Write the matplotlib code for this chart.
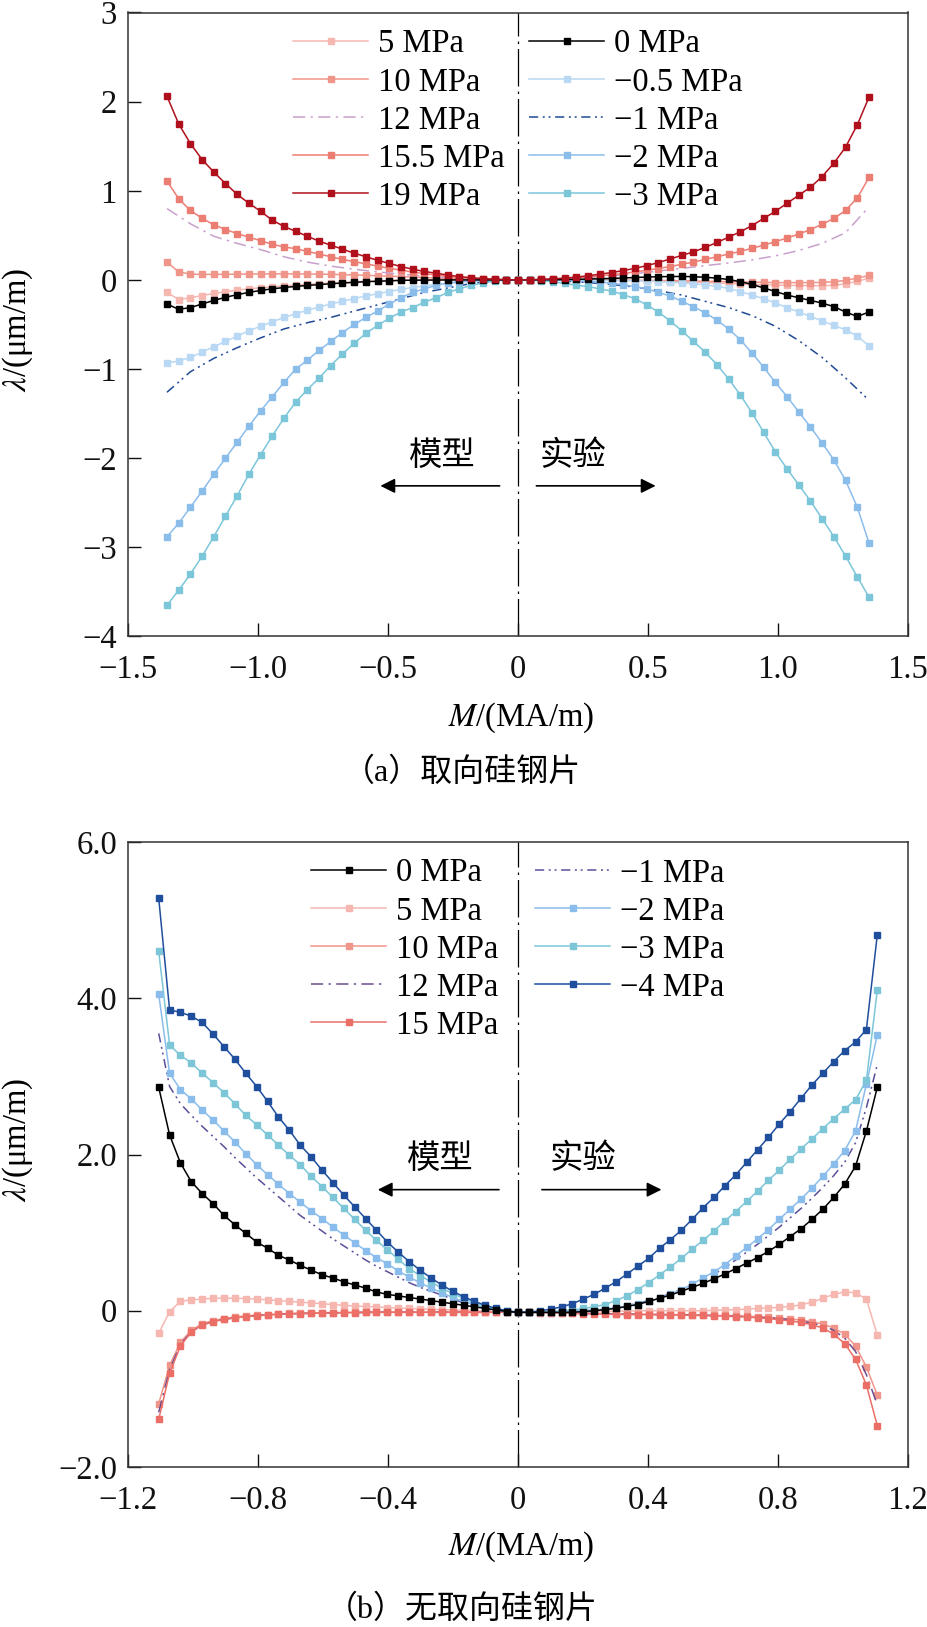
import matplotlib
matplotlib.use("Agg")
import matplotlib.pyplot as plt

plt.rcParams['font.family'] = ['Liberation Serif', 'Noto Sans CJK SC']
plt.rcParams['mathtext.fontset'] = 'stix'
plt.rcParams['axes.unicode_minus'] = True

# ---------------- Panel (a): grain-oriented steel ----------------
A_M = [0.0, 0.045, 0.09, 0.135, 0.18, 0.225, 0.27, 0.315, 0.36, 0.405,
       0.45, 0.495, 0.54, 0.585, 0.63, 0.675, 0.72, 0.765, 0.81, 0.855,
       0.9, 0.945, 0.99, 1.035, 1.08, 1.125, 1.17, 1.215, 1.26, 1.305, 1.35]
A_M_LINE = [0.0, 0.09, 0.18, 0.27, 0.36, 0.45, 0.54, 0.63, 0.72, 0.81,
            0.9, 0.99, 1.08, 1.17, 1.26, 1.35]

a19_model = [0, .003, .008, .015, .025, .037, .055, .075, .095, .12,
             .15, .185, .22, .26, .30, .345, .39, .435, .49, .545,
             .60, .67, .77, .86, .96, 1.08, 1.21, 1.35, 1.53, 1.75, 2.06]
a19_exp = [0, .002, .006, .012, .02, .032, .047, .064, .083, .105,
           .13, .16, .195, .235, .275, .315, .365, .42, .48, .54,
           .61, .69, .77, .86, .95, 1.04, 1.16, 1.31, 1.49, 1.74, 2.05]
a155_model = [0, .002, .005, .01, .018, .028, .04, .055, .07, .088,
              .11, .13, .155, .18, .205, .23, .26, .29, .32, .35,
              .37, .40, .44, .48, .52, .565, .62, .69, .78, .91, 1.11]
a155_exp = [0, .002, .005, .01, .016, .024, .034, .045, .058, .072,
            .09, .108, .128, .15, .175, .20, .23, .26, .29, .32,
            .355, .39, .43, .47, .515, .565, .625, .69, .78, .92, 1.15]
a12_model = [0, .004, .012, .025, .042, .065, .09, .12, .155, .2,
             .26, .34, .41, .49, .63, .80]
a12_exp = [0, .004, .012, .025, .045, .07, .10, .13, .16, .19,
           .225, .27, .33, .41, .53, .82]
a10_model = [0, .001, .003, .006, .01, .014, .018, .022, .027, .032,
             .037, .042, .047, .052, .056, .06, .063, .065, .067, .068,
             .068, .068, .067, .066, .065, .063, .062, .062, .065, .09, .20]
a10_exp = [0, 0, 0, 0, 0, -.001, -.002, -.002, -.003, -.003,
           -.004, -.005, -.006, -.008, -.01, -.012, -.015, -.017, -.02, -.022,
           -.025, -.027, -.03, -.03, -.03, -.03, -.028, -.02, -.005, .02, .05]
a5_model = [0, 0, 0, 0, 0, 0, 0, 0, 0, -.002,
            -.005, -.008, -.012, -.017, -.022, -.028, -.035, -.042, -.05, -.058,
            -.067, -.077, -.088, -.1, -.115, -.132, -.152, -.175, -.2, -.22, -.14]
a5_exp = [0, 0, 0, 0, -.001, -.002, -.003, -.004, -.005, -.006,
          -.008, -.01, -.015, -.018, -.022, -.026, -.03, -.035, -.04, -.045,
          -.05, -.054, -.058, -.06, -.063, -.065, -.065, -.06, -.045, -.015, .02]
a0_model = [0, 0, 0, 0, 0, 0, 0, -.001, -.002, -.003,
            -.005, -.01, -.015, -.02, -.027, -.035, -.043, -.052, -.062, -.073,
            -.085, -.1, -.118, -.14, -.165, -.195, -.23, -.27, -.31, -.33, -.27]
a0_exp = [0, 0, .001, .002, .004, .007, .01, .013, .017, .022,
          .027, .032, .036, .038, .039, .036, .03, .02, .005, -.02,
          -.05, -.09, -.13, -.17, -.2, -.23, -.26, -.3, -.36, -.41, -.36]
am05_model = [0, -.001, -.004, -.009, -.016, -.025, -.036, -.05, -.066, -.085,
              -.105, -.13, -.155, -.18, -.21, -.24, -.27, -.305, -.34, -.38,
              -.42, -.47, -.52, -.57, -.63, -.69, -.75, -.81, -.87, -.91, -.93]
am05_exp = [0, 0, -.001, -.001, -.002, -.003, -.004, -.005, -.006, -.007,
            -.008, -.012, -.018, -.025, -.033, -.043, -.056, -.072, -.095, -.13,
            -.17, -.21, -.26, -.31, -.36, -.41, -.46, -.51, -.56, -.63, -.74]
am1_model = [0, -.01, -.04, -.09, -.14, -.21, -.28, -.35, -.42, -.48,
             -.55, -.65, -.76, -.88, -1.03, -1.26]
am1_exp = [0, -.003, -.012, -.03, -.05, -.08, -.12, -.17, -.24, -.31,
           -.40, -.52, -.68, -.87, -1.1, -1.35]
am2_model = [0, 0, -.002, -.005, -.01, -.02, -.035, -.06, -.1, -.14,
             -.2, -.27, -.35, -.42, -.5, -.59, -.69, -.79, -.9, -1.0,
             -1.15, -1.31, -1.47, -1.64, -1.82, -2.0, -2.18, -2.37, -2.55, -2.73, -2.88]
am2_exp = [0, 0, -.001, -.003, -.006, -.01, -.016, -.025, -.037, -.055,
           -.075, -.1, -.14, -.18, -.24, -.3, -.37, -.45, -.55, -.67,
           -.82, -.98, -1.15, -1.31, -1.48, -1.65, -1.83, -2.02, -2.25, -2.55, -2.95]
am3_model = [0, -.003, -.01, -.035, -.06, -.1, -.14, -.2, -.25, -.31,
             -.36, -.43, -.51, -.6, -.71, -.83, -.96, -1.1, -1.23, -1.37,
             -1.55, -1.75, -1.96, -2.18, -2.42, -2.65, -2.88, -3.1, -3.3, -3.48, -3.65]
am3_exp = [0, -.002, -.008, -.02, -.04, -.06, -.075, -.1, -.125, -.165,
           -.21, -.28, -.36, -.46, -.57, -.69, -.81, -.95, -1.11, -1.29,
           -1.49, -1.71, -1.93, -2.12, -2.3, -2.48, -2.68, -2.88, -3.1, -3.33, -3.56]

A_XTICKS = [-1.5, -1.0, -0.5, 0, 0.5, 1.0, 1.5]
A_XLABELS = ['\u22121.5', '\u22121.0', '\u22120.5', '0', '0.5', '1.0', '1.5']
A_YTICKS = [-4, -3, -2, -1, 0, 1, 2, 3]
A_YLABELS = ['\u22124', '\u22123', '\u22122', '\u22121', '0', '1', '2', '3']

# ---------------- Panel (b): non-oriented steel ----------------
B_M = [0.0, 0.0335, 0.067, 0.1005, 0.134, 0.1675, 0.201, 0.2345, 0.268, 0.3015,
       0.335, 0.3685, 0.402, 0.4355, 0.469, 0.5025, 0.536, 0.5695, 0.603, 0.6365,
       0.67, 0.7035, 0.737, 0.7705, 0.804, 0.8375, 0.871, 0.9045, 0.938, 0.9715,
       1.005, 1.0385, 1.072, 1.1055]

b0_model = [-.02, -.01, .01, .03, .05, .07, .09, .11, .13, .15,
            .17, .19, .21, .24, .29, .33, .37, .42, .46, .52,
            .58, .65, .71, .80, .88, .99, 1.10, 1.22, 1.37, 1.50,
            1.65, 1.89, 2.25, 2.86]
b0_exp = [-.02, -.02, -.02, -.02, -.02, -.02, -.01, 0, .015, .03,
          .055, .08, .12, .16, .20, .25, .30, .35, .41, .47,
          .54, .61, .68, .76, .85, .95, 1.05, 1.17, 1.30, 1.45,
          1.62, 1.85, 2.30, 2.86]
b5_model = [-.02, -.015, -.01, -.005, 0, .005, .01, .015, .02, .025,
            .03, .035, .04, .05, .055, .06, .07, .08, .09, .10,
            .11, .12, .13, .14, .15, .155, .16, .16, .16, .15,
            .14, .12, -.01, -.29]
b5_exp = [-.02, -.02, -.02, -.02, -.015, -.015, -.01, -.01, -.01, -.005,
          -.005, 0, 0, 0, 0, 0, 0, 0, .005, .01,
          .015, .02, .03, .035, .045, .055, .075, .11, .16, .21,
          .24, .23, .15, -.31]
b10_model = [-.015, -.015, -.015, -.015, -.015, -.015, -.015, -.015, -.015, -.015,
             -.015, -.015, -.015, -.015, -.017, -.019, -.021, -.023, -.025, -.028,
             -.031, -.035, -.041, -.048, -.056, -.065, -.08, -.10, -.125, -.165,
             -.25, -.40, -.70, -1.19]
b10_exp = [-.02, -.02, -.02, -.025, -.025, -.03, -.03, -.035, -.035, -.04,
           -.04, -.04, -.045, -.045, -.05, -.05, -.05, -.055, -.06, -.06,
           -.065, -.07, -.075, -.085, -.095, -.105, -.12, -.14, -.17, -.22,
           -.30, -.45, -.72, -1.08]
b12_model = [-.02, -.02, -.02, -.02, -.02, -.02, -.02, -.02, -.02, -.02,
             -.02, -.02, -.02, -.02, -.022, -.024, -.026, -.028, -.03, -.033,
             -.036, -.04, -.046, -.053, -.062, -.075, -.09, -.11, -.14, -.18,
             -.27, -.43, -.75, -1.30]
b12_exp = [-.02, -.02, -.02, -.025, -.03, -.03, -.035, -.035, -.04, -.04,
           -.045, -.045, -.05, -.05, -.05, -.055, -.055, -.06, -.06, -.065,
           -.07, -.075, -.085, -.09, -.10, -.115, -.13, -.16, -.19, -.25,
           -.35, -.52, -.82, -1.20]
b15_model = [-.02, -.02, -.02, -.02, -.02, -.02, -.02, -.02, -.02, -.02,
             -.02, -.02, -.02, -.02, -.022, -.024, -.026, -.028, -.03, -.033,
             -.036, -.04, -.047, -.055, -.064, -.077, -.09, -.11, -.14, -.18,
             -.27, -.45, -.80, -1.39]
b15_exp = [-.02, -.02, -.025, -.03, -.03, -.035, -.04, -.04, -.045, -.045,
           -.05, -.05, -.05, -.05, -.055, -.055, -.06, -.06, -.065, -.07,
           -.075, -.08, -.09, -.10, -.115, -.13, -.15, -.18, -.22, -.30,
           -.42, -.62, -.95, -1.47]
bm1_model = [-.02, -.01, 0, .03, .06, .1, .15, .2, .25, .3,
             .36, .43, .5, .57, .65, .74, .83, .92, 1.02, 1.12,
             1.22, 1.34, 1.46, 1.58, 1.70, 1.83, 1.96, 2.10, 2.23, 2.36,
             2.50, 2.65, 2.87, 3.55]
bm1_exp = [-.02, -.02, -.02, -.02, -.02, -.01, 0, .005, .02, .04,
           .065, .095, .13, .17, .22, .27, .33, .39, .47, .55,
           .65, .75, .85, .96, 1.07, 1.19, 1.31, 1.44, 1.58, 1.73,
           1.90, 2.15, 2.60, 3.15]
bm2_model = [-.02, -.01, .01, .04, .08, .12, .17, .23, .29, .36,
             .43, .51, .60, .68, .77, .87, .97, 1.07, 1.18, 1.28,
             1.39, 1.50, 1.62, 1.74, 1.87, 2.01, 2.16, 2.30, 2.44, 2.57,
             2.71, 2.83, 3.04, 4.05]
bm2_exp = [-.02, -.02, -.02, -.02, -.01, 0, 0, .01, .02, .04,
           .06, .09, .12, .16, .21, .27, .34, .42, .50, .59,
           .70, .81, .92, 1.04, 1.17, 1.30, 1.43, 1.57, 1.72, 1.88,
           2.05, 2.30, 2.90, 3.53]
bm3_model = [-.02, 0, .02, .06, .10, .16, .22, .29, .37, .45,
             .54, .66, .78, .90, 1.03, 1.17, 1.31, 1.45, 1.59, 1.72,
             1.87, 1.99, 2.12, 2.25, 2.38, 2.50, 2.65, 2.79, 2.92, 3.04,
             3.17, 3.27, 3.40, 4.60]
bm3_exp = [-.02, -.02, -.02, -.01, 0, .01, .03, .05, .08, .13,
           .19, .27, .36, .46, .56, .67, .79, .90, 1.02, 1.15,
           1.27, 1.40, 1.53, 1.67, 1.80, 1.94, 2.07, 2.20, 2.33, 2.46,
           2.58, 2.70, 2.95, 4.10]
bm4_model = [-.02, 0, .03, .07, .12, .18, .25, .33, .42, .52,
             .63, .75, .88, 1.03, 1.18, 1.33, 1.48, 1.64, 1.80, 1.97,
             2.12, 2.31, 2.48, 2.68, 2.87, 3.04, 3.22, 3.38, 3.54, 3.69,
             3.77, 3.82, 3.85, 5.28]
bm4_exp = [-.02, -.02, 0, .02, .05, .09, .15, .21, .29, .37,
           .47, .57, .67, .80, .91, 1.03, 1.17, 1.32, 1.45, 1.60,
           1.74, 1.90, 2.06, 2.22, 2.39, 2.55, 2.72, 2.89, 3.04, 3.19,
           3.33, 3.44, 3.60, 4.81]

B_XTICKS = [-1.2, -0.8, -0.4, 0, 0.4, 0.8, 1.2]
B_XLABELS = ['\u22121.2', '\u22120.8', '\u22120.4', '0', '0.4', '0.8', '1.2']
B_YTICKS = [-2, 0, 2, 4, 6]
B_YLABELS = ['\u22122.0', '0', '2.0', '4.0', '6.0']

# ---------------- styles ----------------
FS = 23.5
W, H = 928, 1627
DASHDOT = (0, (8, 3.5, 1.5, 3.5))
DASHDOTDOT = (0, (6, 3, 1.3, 2.5, 1.3, 3))


def both_sides(grid, model, exp):
    n = min(len(grid), len(model), len(exp))
    g, m, e = grid[:n], model[:n], exp[:n]
    xs = [-v for v in reversed(g)] + list(g[1:])
    ys = list(reversed(m)) + list(e[1:])
    return xs, ys


def draw(ax, grid, model, exp, label, color, ls='-', marker='s', ms=4.0, lw=1.1, z=2):
    xs, ys = both_sides(grid, model, exp)
    if marker:
        line, = ax.plot(xs, ys, ls=ls, color=color, lw=lw, marker=marker,
                        ms=ms, mec=color, mfc=color, label=label, zorder=z)
    else:
        line, = ax.plot(xs, ys, ls=ls, color=color, lw=lw, label=label, zorder=z)
    return line


def style_axes(ax, xlim, ylim, xt, xl, yt, yl):
    ax.set_xlim(*xlim)
    ax.set_ylim(*ylim)
    ax.set_xticks(xt)
    ax.set_xticklabels(xl)
    ax.set_yticks(yt)
    ax.set_yticklabels(yl)
    ax.tick_params(direction='in', length=9.5, width=1.0, top=False, right=False,
                   labelsize=FS, colors='#111111')
    ax.tick_params(axis='x', pad=13)
    ax.tick_params(axis='y', pad=8)
    for s in ax.spines.values():
        s.set_linewidth(1.1)
        s.set_color('#333333')
    ax.axvline(0, color='black', lw=0.9, ls=(0, (30, 4, 2, 4)), zorder=1)


def fx(px):
    return px / W


def fy(py):
    return 1 - py / H


fig = plt.figure(figsize=(W / 100, H / 100), dpi=100)

# ---------- panel a ----------
axa = fig.add_axes([fx(128), fy(636.5), 780 / W, 624 / H])
la = {}
la['5'] = draw(axa, A_M, a5_model, a5_exp, '5 MPa', '#F5B7B0')
la['10'] = draw(axa, A_M, a10_model, a10_exp, '10 MPa', '#F0958A')
la['12'] = draw(axa, A_M_LINE, a12_model, a12_exp, '12 MPa', '#C9A0CB', ls=DASHDOT, marker=None)
la['15.5'] = draw(axa, A_M, a155_model, a155_exp, '15.5 MPa', '#EC7D73')
la['-0.5'] = draw(axa, A_M, am05_model, am05_exp, '\u22120.5 MPa', '#B9D8F3')
la['-1'] = draw(axa, A_M_LINE, am1_model, am1_exp, '\u22121 MPa', '#1F4A94', ls=DASHDOTDOT, marker=None)
la['-2'] = draw(axa, A_M, am2_model, am2_exp, '\u22122 MPa', '#8BBDEB')
la['-3'] = draw(axa, A_M, am3_model, am3_exp, '\u22123 MPa', '#7CC6DA')
la['0'] = draw(axa, A_M, a0_model, a0_exp, '0 MPa', '#000000', z=3)
la['19'] = draw(axa, A_M, a19_model, a19_exp, '19 MPa', '#B0101C', ms=4.3, z=3)
style_axes(axa, (-1.5, 1.5), (-4, 3), A_XTICKS, A_XLABELS, A_YTICKS, A_YLABELS)

leg_kw = dict(loc='upper left', bbox_transform=fig.transFigure, frameon=False,
              borderpad=0, borderaxespad=0, handlelength=2.3, handletextpad=0.3,
              labelspacing=0.23, fontsize=FS)
l1 = axa.legend(handles=[la[k] for k in ['5', '10', '12', '15.5', '19']],
                bbox_to_anchor=(fx(293), fy(29)), **leg_kw)
axa.add_artist(l1)
axa.legend(handles=[la[k] for k in ['0', '-0.5', '-1', '-2', '-3']],
           bbox_to_anchor=(fx(529), fy(29)), **leg_kw)

axa.text(-0.29, -1.97, '模型', fontsize=24, ha='center', va='center',
         family=['Noto Sans CJK SC'])
axa.text(0.21, -1.97, '实验', fontsize=24, ha='center', va='center',
         family=['Noto Sans CJK SC'])
arrow_kw = dict(arrowstyle='-|>', color='black', lw=1.2, mutation_scale=22)
axa.annotate('', xy=(-0.54, -2.31), xytext=(-0.06, -2.31), arrowprops=arrow_kw)
axa.annotate('', xy=(0.54, -2.31), xytext=(0.06, -2.31), arrowprops=arrow_kw)

fig.text(fx(18), fy(330), r'$\lambda$/(μm/m)', rotation=90, ha='center', va='center', fontsize=FS)
fig.text(fx(521), fy(718), r'$M$/(MA/m)', ha='center', va='center', fontsize=FS)
fig.text(fx(462), fy(773), '（a）取向硅钢片', ha='center', va='center', fontsize=23,
         family=['Liberation Serif', 'Noto Sans CJK SC'])

# ---------- panel b ----------
axb = fig.add_axes([fx(128), fy(1467), 780 / W, 625 / H])
lb = {}
lb['5'] = draw(axb, B_M, b5_model, b5_exp, '5 MPa', '#F5B7B0')
lb['10'] = draw(axb, B_M, b10_model, b10_exp, '10 MPa', '#F0958A')
lb['12'] = draw(axb, B_M, b12_model, b12_exp, '12 MPa', '#6B4D8F', ls=DASHDOT, marker=None)
lb['15'] = draw(axb, B_M, b15_model, b15_exp, '15 MPa', '#EC6F67')
lb['-1'] = draw(axb, B_M, bm1_model, bm1_exp, '\u22121 MPa', '#5B4E9A', ls=DASHDOTDOT, marker=None)
lb['-2'] = draw(axb, B_M, bm2_model, bm2_exp, '\u22122 MPa', '#8ABDEC')
lb['-3'] = draw(axb, B_M, bm3_model, bm3_exp, '\u22123 MPa', '#7CC6D8')
lb['-4'] = draw(axb, B_M, bm4_model, bm4_exp, '\u22124 MPa', '#1F4E9C', z=3)
lb['0'] = draw(axb, B_M, b0_model, b0_exp, '0 MPa', '#000000', z=3)
style_axes(axb, (-1.2, 1.2), (-2, 6), B_XTICKS, B_XLABELS, B_YTICKS, B_YLABELS)

l3 = axb.legend(handles=[lb[k] for k in ['0', '5', '10', '12', '15']],
                bbox_to_anchor=(fx(311), fy(858)), **leg_kw)
axb.add_artist(l3)
axb.legend(handles=[lb[k] for k in ['-1', '-2', '-3', '-4']],
           bbox_to_anchor=(fx(535), fy(858)), **leg_kw)

axb.text(-0.24, 1.95, '模型', fontsize=24, ha='center', va='center',
         family=['Noto Sans CJK SC'])
axb.text(0.2, 1.95, '实验', fontsize=24, ha='center', va='center',
         family=['Noto Sans CJK SC'])
axb.annotate('', xy=(-0.44, 1.55), xytext=(-0.05, 1.55), arrowprops=arrow_kw)
axb.annotate('', xy=(0.45, 1.55), xytext=(0.065, 1.55), arrowprops=arrow_kw)

fig.text(fx(18), fy(1140), r'$\lambda$/(μm/m)', rotation=90, ha='center', va='center', fontsize=FS)
fig.text(fx(521), fy(1547), r'$M$/(MA/m)', ha='center', va='center', fontsize=FS)
fig.text(fx(462), fy(1610), '（b）无取向硅钢片', ha='center', va='center', fontsize=23,
         family=['Liberation Serif', 'Noto Sans CJK SC'])

fig.savefig('out.png', dpi=100)
